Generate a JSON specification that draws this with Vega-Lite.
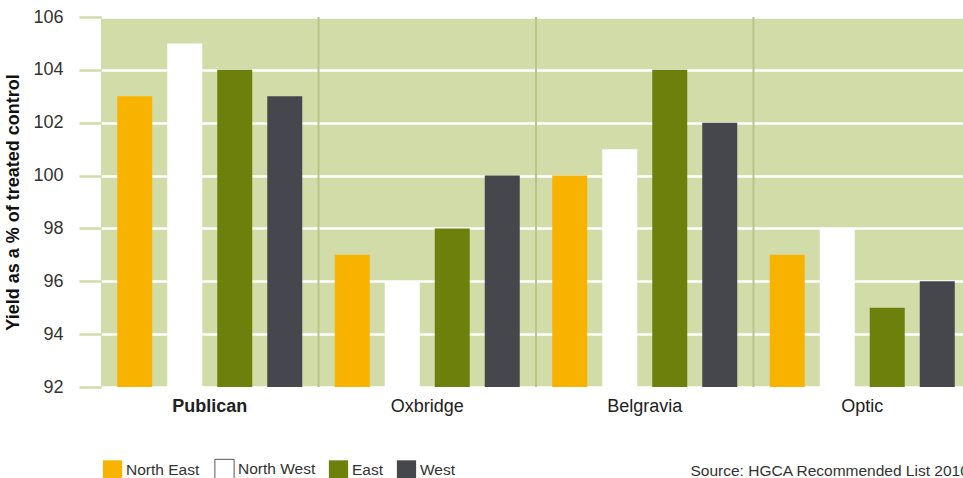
{
  "$schema": "https://vega.github.io/schema/vega-lite/v6.json",
  "autosize": "none",
  "padding": {"left": 101, "top": 17, "right": 0, "bottom": 91},
  "width": 862,
  "height": 370,
  "background": "white",
  "config": {
    "font": "Liberation Sans",
    "view": {"fill": "#d1dca9", "stroke": null}
  },
  "datasets": {
    "yields": [
      {"variety": "Publican", "region": "North East", "yield": 103},
      {"variety": "Publican", "region": "North West", "yield": 105},
      {"variety": "Publican", "region": "East", "yield": 104},
      {"variety": "Publican", "region": "West", "yield": 103},
      {"variety": "Oxbridge", "region": "North East", "yield": 97},
      {"variety": "Oxbridge", "region": "North West", "yield": 96},
      {"variety": "Oxbridge", "region": "East", "yield": 98},
      {"variety": "Oxbridge", "region": "West", "yield": 100},
      {"variety": "Belgravia", "region": "North East", "yield": 100},
      {"variety": "Belgravia", "region": "North West", "yield": 101},
      {"variety": "Belgravia", "region": "East", "yield": 104},
      {"variety": "Belgravia", "region": "West", "yield": 102},
      {"variety": "Optic", "region": "North East", "yield": 97},
      {"variety": "Optic", "region": "North West", "yield": 98},
      {"variety": "Optic", "region": "East", "yield": 95},
      {"variety": "Optic", "region": "West", "yield": 96}
    ],
    "dividers": [
      {"variety": "Oxbridge"},
      {"variety": "Belgravia"},
      {"variety": "Optic"}
    ]
  },
  "layer": [
    {
      "data": {"name": "yields"},
      "mark": {"type": "bar"},
      "encoding": {
        "x": {
          "field": "variety",
          "type": "nominal",
          "scale": {
            "domain": ["Publican", "Oxbridge", "Belgravia", "Optic"],
            "range": [0, 870],
            "paddingInner": 0,
            "paddingOuter": 0
          },
          "axis": {
            "title": "Source: HGCA Recommended List 2010",
            "titleFontSize": 15.5,
            "titleFontWeight": "normal",
            "titleColor": "#333333",
            "titleAnchor": "start",
            "titleAlign": "left",
            "titleBaseline": "alphabetic",
            "titleX": 589,
            "titleY": 88,
            "domain": false,
            "ticks": false,
            "labelAngle": 0,
            "labelFontSize": 18,
            "labelColor": "#222222",
            "labelPadding": 10,
            "labelFontWeight": {
              "condition": {"test": "datum.value === 'Publican'", "value": "bold"},
              "value": "normal"
            }
          }
        },
        "xOffset": {
          "field": "region",
          "type": "nominal",
          "scale": {
            "domain": ["North East", "North West", "East", "West"],
            "paddingInner": 0.3,
            "paddingOuter": 0.325
          }
        },
        "y": {
          "field": "yield",
          "type": "quantitative",
          "scale": {"domain": [92, 106], "zero": false, "nice": false},
          "axis": {
            "title": "Yield as a % of treated control",
            "titleFontSize": 18,
            "titleFontWeight": "bold",
            "titleColor": "#111111",
            "titlePadding": 10,
            "values": [92, 94, 96, 98, 100, 102, 104, 106],
            "domain": false,
            "tickSize": 22,
            "tickColor": "#d1dca9",
            "tickWidth": 2.5,
            "labelFontSize": 18,
            "labelColor": "#333333",
            "labelPadding": 16,
            "grid": true,
            "gridColor": "#ffffff",
            "gridWidth": 2.5
          }
        },
        "y2": {"datum": 92},
        "color": {
          "field": "region",
          "type": "nominal",
          "scale": {
            "domain": ["North East", "North West", "East", "West"],
            "range": ["#f8b200", "#ffffff", "#6e800c", "#45474c"]
          },
          "legend": {
            "title": null,
            "orient": "none",
            "legendX": 1,
            "legendY": 441,
            "direction": "horizontal",
            "symbolType": "square",
            "symbolSize": 370,
            "symbolOpacity": 1,
            "symbolStrokeWidth": 1,
            "labelFontSize": 15.5,
            "labelColor": "#333333",
            "labelOffset": 3,
            "columnPadding": 12,
            "padding": 0,
            "encode": {
              "symbols": {
                "update": {
                  "stroke": {"signal": "datum.value === 'North West' ? '#555555' : null"}
                }
              }
            }
          }
        }
      }
    },
    {
      "data": {"name": "dividers"},
      "mark": {"type": "rule", "color": "#b8c48a", "strokeWidth": 2},
      "encoding": {
        "x": {"field": "variety", "type": "nominal", "bandPosition": 0}
      }
    }
  ]
}
